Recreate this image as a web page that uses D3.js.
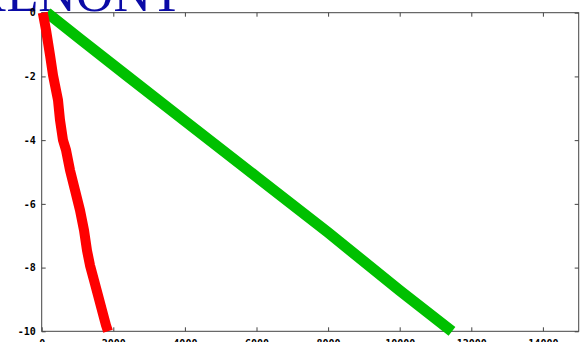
<!DOCTYPE html>
<html>
<head>
<meta charset="utf-8">
<script src="https://cdn.jsdelivr.net/npm/d3@7"></script>
<style>
  html, body { margin: 0; padding: 0; background: #fff; overflow: hidden; }
  svg { display: block; }
</style>
</head>
<body>
<svg id="chart" width="588" height="342"></svg>
<script>
// Axis ticks
const xTicks = [0, 2000, 4000, 6000, 8000, 10000, 12000, 14000];
const yTicks = [0, -2, -4, -6, -8, -10];
const xTickLabels = ["0", "2000", "4000", "6000", "8000", "10000", "12000", "14000"];
const yTickLabels = ["0", "-2", "-4", "-6", "-8", "-10"];

// Red series (x, y)
const redX = [30, 120, 232, 316, 455, 511, 595, 679, 790, 930, 1070, 1182, 1265, 1349, 1461, 1573, 1684, 1796, 1852];
const redY = [0, -0.54, -1.33, -1.96, -2.74, -3.37, -4.0, -4.31, -4.94, -5.57, -6.2, -6.83, -7.46, -7.93, -8.4, -8.87, -9.34, -9.81, -10];

// Green series (x, y)
const greenX = [150, 1100, 2350, 4000, 6000, 8000, 10000, 11460];
const greenY = [0, -0.85, -1.95, -3.4, -5.15, -6.9, -8.72, -10];

const titleText = "XENONT";

const svg = d3.select("#chart");
const plot = { left: 41.7, right: 578.7, top: 12.7, bottom: 331.3 };

const x = d3.scaleLinear().domain([0, 15000]).range([plot.left, plot.right]);
const y = d3.scaleLinear().domain([-10, 0]).range([plot.bottom, plot.top]);

// Title, partly above the frame
svg.append("text")
  .attr("x", -31)
  .attr("y", 11)
  .attr("font-family", "'Liberation Serif', 'Times New Roman', serif")
  .attr("font-size", 52)
  .attr("fill", "#0a0aa6")
  .text(titleText);

// Frame
svg.append("rect")
  .attr("x", plot.left).attr("y", plot.top)
  .attr("width", plot.right - plot.left).attr("height", plot.bottom - plot.top)
  .attr("fill", "none").attr("stroke", "#444").attr("stroke-width", 1);

const tickFont = "'DejaVu Sans Mono', 'Liberation Mono', monospace";

// Axes with inward ticks, mirrored on top and right
const axisStyle = g => {
  g.select(".domain").remove();
  g.selectAll(".tick line").attr("stroke", "#444");
  g.selectAll(".tick text")
    .attr("font-family", tickFont)
    .attr("font-weight", "bold")
    .attr("font-size", 10)
    .attr("fill", "#000");
};

svg.append("g")
  .attr("transform", `translate(0,${plot.bottom})`)
  .call(d3.axisBottom(x).tickValues(xTicks)
    .tickFormat((d, i) => xTickLabels[i]).tickSizeInner(-4).tickPadding(9))
  .call(axisStyle);

svg.append("g")
  .attr("transform", `translate(0,${plot.top})`)
  .call(d3.axisTop(x).tickValues(xTicks).tickFormat("").tickSizeInner(-4))
  .call(axisStyle);

svg.append("g")
  .attr("transform", `translate(${plot.left},0)`)
  .call(d3.axisLeft(y).tickValues(yTicks)
    .tickFormat((d, i) => yTickLabels[i]).tickSizeInner(-4).tickPadding(6))
  .call(axisStyle);

svg.append("g")
  .attr("transform", `translate(${plot.right},0)`)
  .call(d3.axisRight(y).tickValues(yTicks).tickFormat("").tickSizeInner(-4))
  .call(axisStyle);

// Data lines
const line = d3.line().x(d => x(d[0])).y(d => y(d[1]));

svg.append("path")
  .datum(greenX.map((v, i) => [v, greenY[i]]))
  .attr("d", line)
  .attr("fill", "none")
  .attr("stroke", "#00c000")
  .attr("stroke-width", 11)
  .attr("stroke-linejoin", "round");

svg.append("path")
  .datum(redX.map((v, i) => [v, redY[i]]))
  .attr("d", line)
  .attr("fill", "none")
  .attr("stroke", "#ff0000")
  .attr("stroke-width", 10)
  .attr("stroke-linejoin", "round");
</script>
</body>
</html>
